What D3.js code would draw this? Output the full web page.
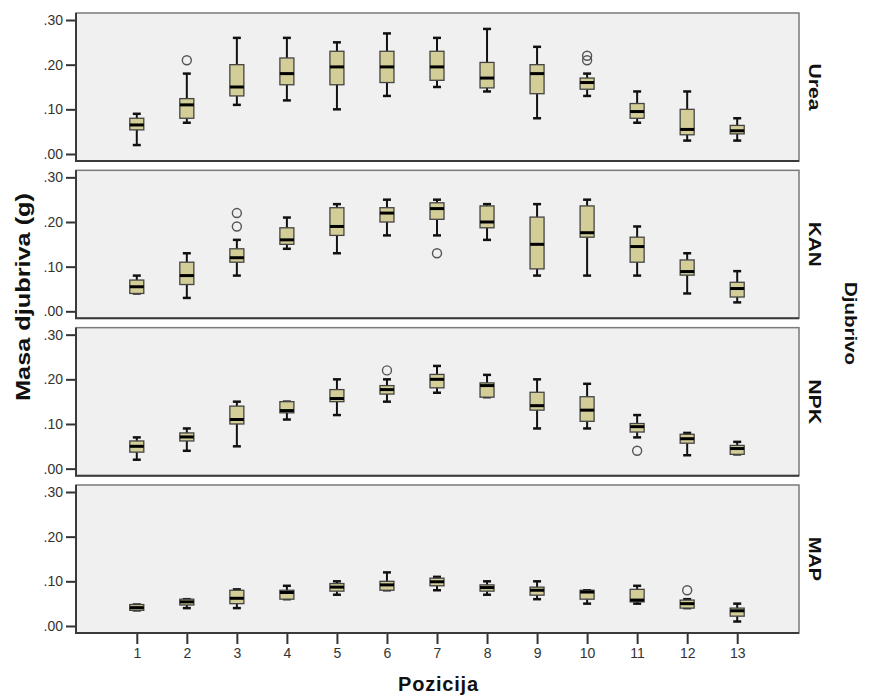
<!DOCTYPE html>
<html>
<head>
<meta charset="utf-8">
<script src="https://cdn.jsdelivr.net/npm/d3@7"></script>
<style>
  html, body { margin: 0; padding: 0; background: #ffffff; }
  svg { display: block; }
  text { font-family: Arial, "Liberation Sans", sans-serif; }
</style>
</head>
<body>
<svg id="chart" width="870" height="695"></svg>
<script>
// ---- Data ----
const positions = [1, 2, 3, 4, 5, 6, 7, 8, 9, 10, 11, 12, 13];
const fertilizers = ["Urea", "KAN", "NPK", "MAP"];
const fertilizerLabelLengths = [47, 45, 45, 44];
const yTickValues = [0, 0.1, 0.2, 0.3];
const yTickLabels = [".00", ".10", ".20", ".30"];

// each row: [lower whisker, Q1, median, Q3, upper whisker] per position 1..13
const ureaStats = [
  [0.02, 0.054, 0.065, 0.08, 0.09],
  [0.07, 0.08, 0.11, 0.124, 0.18],
  [0.11, 0.13, 0.15, 0.20, 0.26],
  [0.12, 0.155, 0.18, 0.215, 0.26],
  [0.10, 0.155, 0.195, 0.23, 0.25],
  [0.13, 0.16, 0.195, 0.23, 0.27],
  [0.15, 0.165, 0.195, 0.23, 0.26],
  [0.14, 0.148, 0.17, 0.205, 0.28],
  [0.08, 0.135, 0.18, 0.20, 0.24],
  [0.13, 0.145, 0.16, 0.17, 0.18],
  [0.07, 0.08, 0.095, 0.113, 0.14],
  [0.03, 0.043, 0.055, 0.10, 0.14],
  [0.03, 0.045, 0.052, 0.064, 0.08]
];
const ureaOutliers = [[2, 0.21], [10, 0.21], [10, 0.22]];

const kanStats = [
  [0.04, 0.04, 0.055, 0.07, 0.08],
  [0.03, 0.06, 0.08, 0.11, 0.13],
  [0.08, 0.11, 0.12, 0.14, 0.16],
  [0.14, 0.15, 0.16, 0.187, 0.21],
  [0.13, 0.17, 0.19, 0.232, 0.24],
  [0.17, 0.20, 0.22, 0.232, 0.25],
  [0.17, 0.206, 0.23, 0.243, 0.25],
  [0.16, 0.187, 0.20, 0.236, 0.24],
  [0.08, 0.095, 0.15, 0.211, 0.24],
  [0.08, 0.166, 0.176, 0.236, 0.25],
  [0.08, 0.11, 0.145, 0.166, 0.19],
  [0.04, 0.081, 0.089, 0.115, 0.13],
  [0.02, 0.032, 0.051, 0.065, 0.09]
];
const kanOutliers = [[3, 0.19], [3, 0.22], [7, 0.13]];

const npkStats = [
  [0.02, 0.037, 0.05, 0.062, 0.07],
  [0.04, 0.062, 0.071, 0.08, 0.09],
  [0.05, 0.10, 0.11, 0.14, 0.15],
  [0.11, 0.125, 0.13, 0.15, 0.15],
  [0.12, 0.15, 0.157, 0.177, 0.20],
  [0.15, 0.167, 0.177, 0.186, 0.20],
  [0.17, 0.181, 0.20, 0.211, 0.23],
  [0.16, 0.16, 0.186, 0.192, 0.21],
  [0.09, 0.131, 0.141, 0.171, 0.20],
  [0.09, 0.106, 0.131, 0.161, 0.19],
  [0.07, 0.082, 0.094, 0.101, 0.12],
  [0.03, 0.057, 0.067, 0.077, 0.08],
  [0.032, 0.032, 0.045, 0.052, 0.06]
];
const npkOutliers = [[6, 0.22], [11, 0.04]];

const mapStats = [
  [0.035, 0.035, 0.041, 0.048, 0.048],
  [0.04, 0.047, 0.054, 0.06, 0.06],
  [0.04, 0.05, 0.062, 0.08, 0.082],
  [0.06, 0.06, 0.075, 0.08, 0.09],
  [0.07, 0.078, 0.087, 0.095, 0.10],
  [0.08, 0.08, 0.092, 0.10, 0.12],
  [0.08, 0.09, 0.099, 0.107, 0.11],
  [0.07, 0.078, 0.086, 0.092, 0.10],
  [0.06, 0.069, 0.08, 0.087, 0.10],
  [0.05, 0.06, 0.076, 0.08, 0.08],
  [0.05, 0.054, 0.058, 0.082, 0.09],
  [0.04, 0.04, 0.05, 0.058, 0.06],
  [0.01, 0.022, 0.034, 0.04, 0.05]
];
const mapOutliers = [[12, 0.08]];

const panelStats = [ureaStats, kanStats, npkStats, mapStats];
const panelOutliers = [ureaOutliers, kanOutliers, npkOutliers, mapOutliers];

// ---- Layout ----
const svg = d3.select("#chart");
const plotLeft = 76, plotRight = 799;
const panelH = 148, panelStep = 157.33, firstTop = 13;
const boxW = 14, capW = 8;

const x = d3.scaleLinear().domain([1 - 1.215, 13 + 1.235]).range([plotLeft, plotRight]);

fertilizers.forEach((name, i) => {
  const top = firstTop + i * panelStep;
  const bottom = top + panelH;
  const y = d3.scaleLinear().domain([-0.0157, 0.3157]).range([bottom, top]);
  const g = svg.append("g");

  // panel background and frame
  g.append("rect")
    .attr("x", plotLeft).attr("y", top)
    .attr("width", plotRight - plotLeft).attr("height", panelH)
    .attr("fill", "#f0f0f0")
    .attr("stroke", "#7a7a7a").attr("stroke-width", 1.5);
  g.append("path")
    .attr("d", `M${plotLeft},${top}V${bottom}H${plotRight}`)
    .attr("fill", "none").attr("stroke", "#3a3a3a").attr("stroke-width", 2);

  // y axis
  const yAxis = d3.axisLeft(y)
    .tickValues(yTickValues)
    .tickFormat((d, k) => yTickLabels[k])
    .tickSize(9).tickPadding(3);
  const ya = g.append("g").attr("transform", `translate(${plotLeft - 1},0)`).call(yAxis);
  ya.select(".domain").remove();
  ya.selectAll(".tick line").attr("stroke", "#333").attr("stroke-width", 2);
  ya.selectAll(".tick text").attr("fill", "#333")
    .style("font-size", "14px").style("font-family", "Arial, 'Liberation Sans', sans-serif");

  // boxes
  const stats = panelStats[i];
  const items = g.selectAll("g.box").data(stats).join("g").attr("class", "box");
  items.each(function(s, k) {
    const cx = x(positions[k]);
    const el = d3.select(this);
    // whiskers
    el.append("line").attr("x1", cx).attr("x2", cx)
      .attr("y1", y(s[0])).attr("y2", y(s[1]))
      .attr("stroke", "#111").attr("stroke-width", 2);
    el.append("line").attr("x1", cx).attr("x2", cx)
      .attr("y1", y(s[3])).attr("y2", y(s[4]))
      .attr("stroke", "#111").attr("stroke-width", 2);
    // caps
    [s[0], s[4]].forEach(v => {
      el.append("line").attr("x1", cx - capW / 2).attr("x2", cx + capW / 2)
        .attr("y1", y(v)).attr("y2", y(v))
        .attr("stroke", "#111").attr("stroke-width", 2.5);
    });
    // box
    el.append("rect")
      .attr("x", cx - boxW / 2).attr("y", y(s[3]))
      .attr("width", boxW).attr("height", Math.max(1, y(s[1]) - y(s[3])))
      .attr("fill", "#d3ce97").attr("stroke", "#444").attr("stroke-width", 1.3);
    // median
    el.append("line").attr("x1", cx - boxW / 2).attr("x2", cx + boxW / 2)
      .attr("y1", y(s[2])).attr("y2", y(s[2]))
      .attr("stroke", "#000").attr("stroke-width", 3);
  });

  // outliers
  g.selectAll("circle.out").data(panelOutliers[i]).join("circle")
    .attr("class", "out")
    .attr("cx", d => x(d[0])).attr("cy", d => y(d[1]))
    .attr("r", 4.5)
    .attr("fill", "none").attr("stroke", "#555").attr("stroke-width", 1.4);

  // panel label
  g.append("text")
    .attr("transform", `translate(809,${(top + bottom) / 2}) rotate(90)`)
    .attr("text-anchor", "middle")
    .attr("font-size", 17).attr("font-weight", "bold").attr("fill", "#111")
    .attr("textLength", fertilizerLabelLengths[i]).attr("lengthAdjust", "spacingAndGlyphs")
    .text(name);

  // x axis on bottom panel
  if (i === fertilizers.length - 1) {
    const xAxis = d3.axisBottom(x).tickValues(positions).tickFormat(d3.format("d"))
      .tickSize(10).tickPadding(4);
    const xa = g.append("g").attr("transform", `translate(0,${bottom + 1})`).call(xAxis);
    xa.select(".domain").remove();
    xa.selectAll(".tick line").attr("stroke", "#333").attr("stroke-width", 2);
    xa.selectAll(".tick text").attr("fill", "#333")
      .style("font-size", "14px").style("font-family", "Arial, 'Liberation Sans', sans-serif");
  }
});

// axis titles
svg.append("text")
  .attr("transform", "translate(30,297) rotate(-90)")
  .attr("text-anchor", "middle")
  .attr("font-size", 20).attr("font-weight", "bold").attr("fill", "#111")
  .attr("textLength", 208).attr("lengthAdjust", "spacingAndGlyphs")
  .text("Masa djubriva (g)");

svg.append("text")
  .attr("x", 438).attr("y", 691)
  .attr("text-anchor", "middle")
  .attr("font-size", 20).attr("font-weight", "bold").attr("fill", "#111")
  .attr("textLength", 80).attr("lengthAdjust", "spacing")
  .text("Pozicija");

svg.append("text")
  .attr("transform", "translate(845,323.5) rotate(90)")
  .attr("text-anchor", "middle")
  .attr("font-size", 17).attr("font-weight", "bold").attr("fill", "#111")
  .attr("textLength", 83).attr("lengthAdjust", "spacingAndGlyphs")
  .text("Djubrivo");
</script>
</body>
</html>
